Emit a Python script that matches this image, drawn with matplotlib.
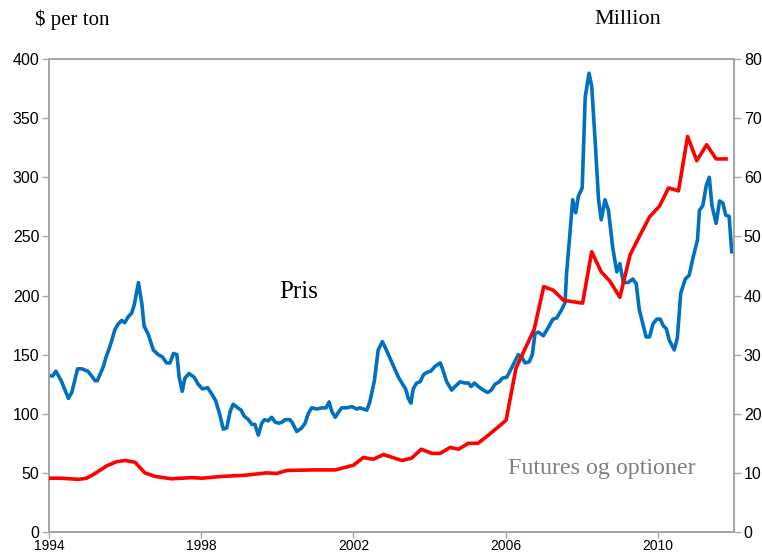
import matplotlib
matplotlib.use("Agg")
import matplotlib.pyplot as plt

# Price, $ per ton (left axis)
price_years = [
    1994.00, 1994.10, 1994.18, 1994.32, 1994.51, 1994.60, 1994.75, 1994.86, 1995.02,
    1995.12, 1995.21, 1995.27, 1995.43, 1995.50, 1995.58, 1995.65, 1995.73, 1995.82,
    1995.91, 1995.99, 1996.08, 1996.17, 1996.24, 1996.35, 1996.44, 1996.50, 1996.61,
    1996.74, 1996.87, 1996.98, 1997.09, 1997.18, 1997.27, 1997.36, 1997.42, 1997.50,
    1997.57, 1997.68, 1997.81, 1997.92, 1998.03, 1998.17, 1998.29, 1998.38, 1998.49,
    1998.58, 1998.67, 1998.76, 1998.84, 1998.96, 1999.05, 1999.13, 1999.24, 1999.33,
    1999.41, 1999.50, 1999.59, 1999.66, 1999.76, 1999.85, 1999.94, 2000.04, 2000.13,
    2000.20, 2000.33, 2000.40, 2000.51, 2000.64, 2000.73, 2000.81, 2000.90, 2001.04,
    2001.17, 2001.28, 2001.36, 2001.43, 2001.52, 2001.60, 2001.69, 2001.82, 2001.96,
    2002.09, 2002.17, 2002.35, 2002.43, 2002.55, 2002.65, 2002.76, 2002.85, 2003.00,
    2003.18, 2003.31, 2003.37, 2003.44, 2003.51, 2003.57, 2003.66, 2003.75, 2003.84,
    2003.93, 2004.03, 2004.14, 2004.28, 2004.34, 2004.45, 2004.58, 2004.67, 2004.80,
    2004.93, 2005.02, 2005.09, 2005.18, 2005.28, 2005.41, 2005.53, 2005.62, 2005.72,
    2005.83, 2005.91, 2006.03, 2006.16, 2006.33, 2006.42, 2006.51, 2006.62, 2006.70,
    2006.77, 2006.86, 2006.99, 2007.12, 2007.24, 2007.34, 2007.47, 2007.56, 2007.60,
    2007.69, 2007.76, 2007.84, 2007.91, 2008.01, 2008.09, 2008.19, 2008.26, 2008.35,
    2008.44, 2008.51, 2008.61, 2008.70, 2008.81, 2008.92, 2009.00, 2009.09, 2009.22,
    2009.34, 2009.43, 2009.51, 2009.62, 2009.69, 2009.78, 2009.87, 2009.97, 2010.06,
    2010.15, 2010.22, 2010.30, 2010.43, 2010.51, 2010.60, 2010.72, 2010.82, 2010.93,
    2011.04, 2011.09, 2011.18, 2011.27, 2011.35, 2011.42, 2011.53, 2011.62, 2011.71,
    2011.78, 2011.87, 2011.94,
]
price = [
    132, 132, 136, 128, 113, 118, 138, 138, 136,
    132, 128, 128, 140, 148, 155, 162, 171, 176,
    179, 177, 182, 185, 192, 211, 193, 174, 167,
    154, 150, 148, 143, 143, 151, 150, 131, 119,
    130, 134, 131, 125, 121, 122, 116, 111, 99,
    87, 88, 102, 108, 105, 103, 98, 95, 91,
    91, 82, 92, 95, 94, 97, 93, 92, 93,
    95, 95, 92, 85, 88, 92, 100, 105, 104,
    105, 105, 110, 102, 97, 101, 105, 105, 106,
    104, 105, 103, 110, 128, 154, 161, 155, 144,
    131, 124, 121, 113, 109, 121, 126, 127, 133,
    135, 136, 140, 143, 138, 127, 120, 123, 127,
    126, 126, 123, 126, 123, 120, 118, 120, 125,
    127, 130, 131, 139, 150, 148, 143, 144, 150,
    168, 169, 166, 173, 180, 181, 188, 194, 219,
    253, 281, 270, 284, 291, 368, 388, 377, 331,
    281, 264, 281, 272, 241, 220, 227, 211, 211,
    214, 210, 188, 174, 165, 165, 176, 180, 180,
    174, 172, 162, 154, 164, 202, 214, 217, 233,
    247, 272, 276, 293, 300, 276, 261, 280, 278,
    268, 267, 237,
]

# Futures and options, million (right axis)
fut_years = [
    1994.00, 1994.33, 1994.77, 1994.99, 1995.21, 1995.52, 1995.78, 1996.00, 1996.26,
    1996.52, 1996.79, 1997.22, 1997.75, 1998.01, 1998.54, 1999.15, 1999.72, 1999.98,
    2000.25, 2000.90, 2001.52, 2002.00, 2002.26, 2002.52, 2002.79, 2003.27, 2003.53,
    2003.78, 2004.06, 2004.28, 2004.54, 2004.76, 2005.02, 2005.27, 2005.55, 2006.01,
    2006.27, 2006.75, 2007.00, 2007.25, 2007.52, 2008.02, 2008.26, 2008.51, 2008.74,
    2009.00, 2009.27, 2009.53, 2009.78, 2010.04, 2010.28, 2010.54, 2010.78, 2011.02,
    2011.28, 2011.53, 2011.79,
]
futures = [
    9.1, 9.1, 8.9, 9.1, 9.9, 11.2, 11.9, 12.1, 11.8,
    10.0, 9.4, 9.0, 9.2, 9.1, 9.4, 9.6, 10.0, 9.9,
    10.4, 10.5, 10.5, 11.3, 12.6, 12.3, 13.1, 12.1, 12.5,
    14.0, 13.3, 13.3, 14.3, 14.0, 15.0, 15.0, 16.4, 18.9,
    27.7, 34.3, 41.5, 40.9, 39.2, 38.7, 47.4, 44.0, 42.4,
    39.7, 46.9, 50.2, 53.3, 55.1, 58.2, 57.7, 66.9, 62.8,
    65.5, 63.1, 63.1,
]

x_ticks = [1994, 1998, 2002, 2006, 2010]
left_ticks = list(range(0, 401, 50))
right_ticks = list(range(0, 81, 10))

spine_grey = "#a6a6a6"
sans = ["Liberation Sans", "DejaVu Sans"]
serif = ["Liberation Serif", "DejaVu Serif"]

fig = plt.figure(figsize=(7.62, 5.54), dpi=100)
ax = fig.add_axes([0.0643, 0.0397, 0.8990, 0.8538])
ax2 = ax.twinx()

ax.plot(price_years, price, color="#0070C0", linewidth=2.6, solid_joinstyle="round", zorder=3)
ax2.plot(fut_years, futures, color="#FF0000", linewidth=2.6, solid_joinstyle="round", zorder=3)

ax.set_xlim(1994, 2012)
ax.set_ylim(0, 400)
ax2.set_ylim(0, 80)
ax.set_xticks(x_ticks)
ax.set_yticks(left_ticks)
ax2.set_yticks(right_ticks)

for a in (ax, ax2):
    for s in a.spines.values():
        s.set_color(spine_grey)
        s.set_linewidth(1.3)
    a.tick_params(axis="y", length=5, width=1, color=spine_grey, labelsize=11.5, pad=2)
ax.tick_params(axis="x", length=4, width=1, color=spine_grey, labelsize=10, pad=1)
for lab in ax.get_xticklabels() + ax.get_yticklabels() + ax2.get_yticklabels():
    lab.set_fontfamily(sans)

fig.text(0.046, 0.965, "$ per ton", family=serif, fontsize=15, va="center", ha="left")
fig.text(0.780, 0.965, "Million", family=serif, fontsize=16, va="center", ha="left")
ax.text(2000.55, 203, "Pris", family=serif, fontsize=18, va="center", ha="center")
ax.text(2006.05, 54, "Futures og optioner", family=serif, fontsize=17.3,
        color="#808080", va="center", ha="left")

fig.savefig("out.png", dpi=100)
